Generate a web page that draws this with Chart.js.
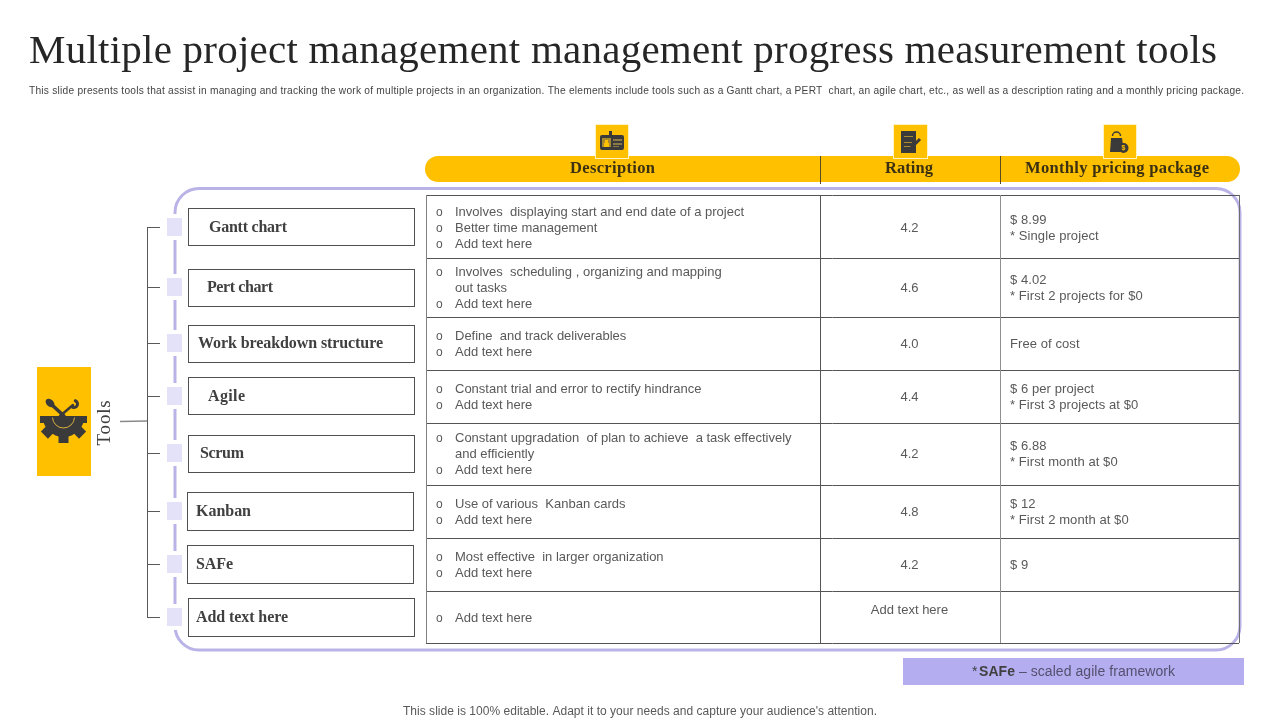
<!DOCTYPE html>
<html><head><meta charset="utf-8">
<style>html,body{margin:0;padding:0;background:#fff;overflow:hidden}canvas{display:block}</style>
<script src="https://cdn.jsdelivr.net/npm/chart.js@4"></script>
</head><body><canvas id="c" width="1280" height="720"></canvas>
<script>
const titleText = "Multiple project management management progress measurement tools";
const subtitleText = "This slide presents tools that assist in managing and tracking the work of multiple projects in an organization. The elements include tools such as a Gantt chart, a PERT  chart, an agile chart, etc., as well as a description rating and a monthly pricing package.";
const footerText = "This slide is 100% editable. Adapt it to your needs and capture your audience's attention.";
const headers = ["Description", "Rating", "Monthly pricing package"];
const tools = ["Gantt chart", "Pert chart", "Work breakdown structure", "Agile", "Scrum", "Kanban", "SAFe", "Add text here"];
const ratings = [4.2, 4.6, 4.0, 4.4, 4.2, 4.8, 4.2, null];
const descriptions = [
  ["Involves  displaying start and end date of a project", "Better time management", "Add text here"],
  ["Involves  scheduling , organizing and mapping", "out tasks", "Add text here"],
  ["Define  and track deliverables", "Add text here"],
  ["Constant trial and error to rectify hindrance", "Add text here"],
  ["Constant upgradation  of plan to achieve  a task effectively", "and efficiently", "Add text here"],
  ["Use of various  Kanban cards", "Add text here"],
  ["Most effective  in larger organization", "Add text here"],
  ["Add text here"]
];
const continuationLines = ["out tasks", "and efficiently"];
const pricing = [
  ["$ 8.99", "* Single project"],
  ["$ 4.02", "* First 2 projects for $0"],
  ["Free of cost"],
  ["$ 6 per project", "* First 3 projects at $0"],
  ["$ 6.88", "* First month at $0"],
  ["$ 12", "* First 2 month at $0"],
  ["$ 9"],
  []
];

/* layout (page pixels, mapped through the chart's own scales) */
const rowEdges = [195, 258, 317, 370, 423, 485, 538, 591, 643];
const rowCentres = [227, 287, 343, 396, 453, 511, 564, 617];
const toolBoxes = [[188,208,226,37],[188,269,226,37],[188,325,226,37],[188,377,226,37],[188,435,226,37],[187,492,226,38],[187,545,226,38],[188,598,226,38]];
const toolTextX = [209, 207, 198, 208, 200, 196, 196, 196];
const toolTextW = [78, 66, 185, 37, 44, 55, 37, 92];
const colEdges = [426, 820.5, 1000, 1239];
const ratingX = 909.5;

const YEL = "#FFC000", PUR = "#B9B3E8", LAV = "#E4E2F8", DARK = "#404040", GREY = "#595959";
const SERIF = '"Liberation Serif"', SANS = '"Liberation Sans"';

const tablePlugin = {
  id: "slideTable",
  afterDatasetsDraw(chart) {
    const g = chart.ctx, X = v => chart.scales.x.getPixelForValue(v), Y = v => chart.scales.y.getPixelForValue(v);
    const rect = (x, y, w, h, col) => { g.fillStyle = col; g.fillRect(X(x), Y(y), X(x + w) - X(x), Y(y + h) - Y(y)); };
    const line = (x1, y1, x2, y2, col, w = 1) => { g.strokeStyle = col; g.lineWidth = w; g.beginPath(); g.moveTo(X(x1), Y(y1)); g.lineTo(X(x2), Y(y2)); g.stroke(); };
    const text = (s, x, y, font, col, o = {}) => {
      g.font = font; g.fillStyle = col; g.textBaseline = "middle"; g.textAlign = o.align || "left";
      g.letterSpacing = "0px";
      let ls = o.ls || 0;
      if (o.w) ls = (o.w - g.measureText(s).width) / Math.max(1, s.length - 1);
      g.letterSpacing = ls + "px";
      g.fillText(s, X(x), Y(y + 1));
      g.letterSpacing = "0px";
    };
    g.save();
    g.lineCap = "butt";

    /* title block */
    text(titleText, 29, 51, `41px ${SERIF}`, "#262626", { w: 1188 });
    text(subtitleText, 29, 90.5, `10.2px ${SANS}`, "#444444", { w: 1215 });
    text(footerText, 403, 711, `12px ${SANS}`, "#595959", { w: 474 });

    /* lavender frame */
    g.strokeStyle = PUR; g.lineWidth = 3; g.beginPath();
    g.roundRect(X(175), Y(188.5), X(1240) - X(175), Y(650) - Y(188.5), 24); g.stroke();

    /* header band */
    g.fillStyle = YEL; g.beginPath(); g.roundRect(X(425), Y(156), X(1240) - X(425), Y(182) - Y(156), 13); g.fill();
    line(820.5, 156, 820.5, 184, "#5a4a20"); line(1000.5, 156, 1000.5, 184, "#5a4a20");
    text(headers[0], 570, 168, `bold 16.5px ${SERIF}`, "#3b3012", { w: 85 });
    text(headers[1], 885, 168, `bold 16.5px ${SERIF}`, "#3b3012", { w: 48 });
    text(headers[2], 1025, 168, `bold 16.5px ${SERIF}`, "#3b3012", { w: 184 });

    /* header icons */
    [[596, 32], [894, 33], [1104, 32]].forEach(([x, w]) => {
      rect(x - 1, 124, w + 2, 35, "#fff3c4"); rect(x, 125, w, 33, YEL);
    });
    const ic = "#3A3A3A";
    g.fillStyle = ic; g.beginPath(); g.roundRect(X(600), Y(135), 24, 15, 2); g.fill();
    rect(609, 131, 3, 5, ic);
    rect(602, 138, 9, 9, "#a98a2c"); rect(605, 140, 3, 3, YEL); rect(604, 143, 5, 4, YEL);
    rect(613, 139, 9, 2, "#8a7a45"); rect(613, 143, 9, 2, "#8a7a45"); rect(613, 146, 6, 1, "#8a7a45");
    rect(901, 131, 15, 22, ic); rect(904, 136, 9, 1, "#a98a2c"); rect(904, 142, 8, 1, "#a98a2c"); rect(904, 146, 8, 1, "#a98a2c");
    line(909, 150, 920, 139, ic, 3);
    g.fillStyle = ic; g.beginPath(); g.moveTo(X(1111), Y(138)); g.lineTo(X(1122), Y(138)); g.lineTo(X(1124), Y(152)); g.lineTo(X(1110), Y(152)); g.closePath(); g.fill();
    g.strokeStyle = ic; g.lineWidth = 1.5; g.beginPath(); g.arc(X(1116.5), Y(136), 4, Math.PI, 0); g.stroke();
    g.beginPath(); g.arc(X(1123.5), Y(148), 5, 0, Math.PI * 2); g.fillStyle = ic; g.fill();
    text("$", 1123.5, 147.5, `bold 7px ${SANS}`, YEL, { align: "center" });

    /* tree connector */
    line(120, 421.5, 147, 421, "#8a8a8a", 1.3);
    line(147.5, rowCentres[0], 147.5, rowCentres[7], GREY);
    rowCentres.forEach(c => line(147, c + .5, 160, c + .5, GREY));

    /* left tile */
    rect(37, 367, 54, 109, YEL);
    const gearX = 63.5, gearY = 416;
    g.fillStyle = ic;
    g.beginPath(); g.arc(X(gearX), Y(gearY), 21, 0, Math.PI); g.closePath(); g.fill();
    rect(40, 416, 47, 7, ic);
    [45, 90, 135].forEach(a => {
      g.save(); g.translate(X(gearX), Y(gearY)); g.rotate(a * Math.PI / 180);
      g.fillRect(16, -5, 11, 10); g.restore();
    });
    g.strokeStyle = "#d9b040"; g.lineWidth = 1; g.beginPath(); g.arc(X(gearX), Y(gearY + 1), 11, 0.05, Math.PI - 0.05); g.stroke();
    g.lineCap = "round";
    line(51, 404, 64, 416, ic, 3.5); line(73, 405, 60, 416, ic, 2.5);
    g.fillStyle = ic; g.beginPath(); g.ellipse(X(50), Y(403), 5, 3.5, .7, 0, Math.PI * 2); g.fill();
    g.strokeStyle = ic; g.lineWidth = 3; g.beginPath(); g.arc(X(74), Y(404), 3.5, -1.2, 2.2); g.stroke();
    g.lineCap = "butt";

    /* tool boxes with markers */
    tools.forEach((t, i) => {
      const c = rowCentres[i], b = toolBoxes[i];
      rect(164, c - 13, 21, 26, "#ffffff");
      rect(167, c - 9, 15, 18, LAV);
      g.strokeStyle = "#505050"; g.lineWidth = 1; g.strokeRect(X(b[0]) + .5, Y(b[1]) + .5, b[2], b[3]);
      text(t, toolTextX[i], c, `bold 16px ${SERIF}`, DARK, { w: toolTextW[i] });
    });

    /* table grid */
    rowEdges.forEach(e => line(colEdges[0], e + .5, colEdges[3], e + .5, "#555555"));
    line(426.5, rowEdges[0], 426.5, rowEdges[8], "#808080");
    line(820.5, rowEdges[0], 820.5, rowEdges[8], "#555555");
    line(1000.5, rowEdges[0], 1000.5, rowEdges[8], "#8f8f8f", 1);
    line(1239.5, rowEdges[0], 1239.5, rowEdges[8], "#6f6f6f");

    const bodyFont = `13px ${SANS}`, bodyCol = "#595959", pitch = 16;
    descriptions.forEach((lines, i) => {
      lines.forEach((s, j) => {
        const y = rowCentres[i] + (j - (lines.length - 1) / 2) * pitch;
        if (!continuationLines.includes(s)) text("o", 436, y + .5, `12px ${SANS}`, bodyCol);
        text(s, 455, y, bodyFont, bodyCol, { ls: 0 });
      });
    });
    pricing.forEach((lines, i) => lines.forEach((s, j) => {
      text(s, 1010, rowCentres[i] + (j - (lines.length - 1) / 2) * pitch, bodyFont, bodyCol, { ls: .08 });
    }));

    /* ratings, positioned by the dataset's own points */
    chart.getDatasetMeta(0).data.forEach((pt, i) => {
      const v = ratings[i];
      g.font = bodyFont; g.fillStyle = bodyCol; g.textAlign = "center"; g.textBaseline = "middle";
      if (v === null) g.fillText("Add text here", pt.x, pt.y - 7);
      else g.fillText(v.toFixed(1), pt.x, pt.y + 1);
    });

    /* rotated label */
    g.save(); g.translate(X(105), Y(422.5)); g.rotate(-Math.PI / 2);
    g.font = `19px ${SERIF}`; g.fillStyle = "#404040"; g.textAlign = "center"; g.textBaseline = "middle"; g.letterSpacing = ".8px";
    g.fillText("Tools", 0, 0); g.letterSpacing = "0px"; g.restore();

    /* footnote band */
    rect(903, 658, 341, 27, "#B4AEF0");
    text("*", 972, 671.5, `14px ${SANS}`, "#404040");
    text("SAFe", 979, 671, `bold 14px ${SANS}`, "#404040", { w: 36 });
    text(" \u2013 scaled agile framework", 1015, 671, `14px ${SANS}`, "#55506f", { w: 160 });
    g.restore();
  }
};

new Chart(document.getElementById("c"), {
  type: "scatter",
  data: {
    labels: tools,
    datasets: [{
      label: "Rating",
      data: ratings.map((r, i) => ({ x: ratingX, y: rowCentres[i] })),
      pointRadius: 0, pointHoverRadius: 0, showLine: false
    }]
  },
  options: {
    responsive: false, animation: false, devicePixelRatio: 1,
    layout: { padding: 0 },
    plugins: { legend: { display: false }, tooltip: { enabled: false }, title: { display: false } },
    events: [],
    scales: {
      x: { type: "linear", min: 0, max: 1280, display: false },
      y: { type: "linear", min: 0, max: 720, reverse: true, display: false }
    }
  },
  plugins: [tablePlugin]
});
</script></body></html>
